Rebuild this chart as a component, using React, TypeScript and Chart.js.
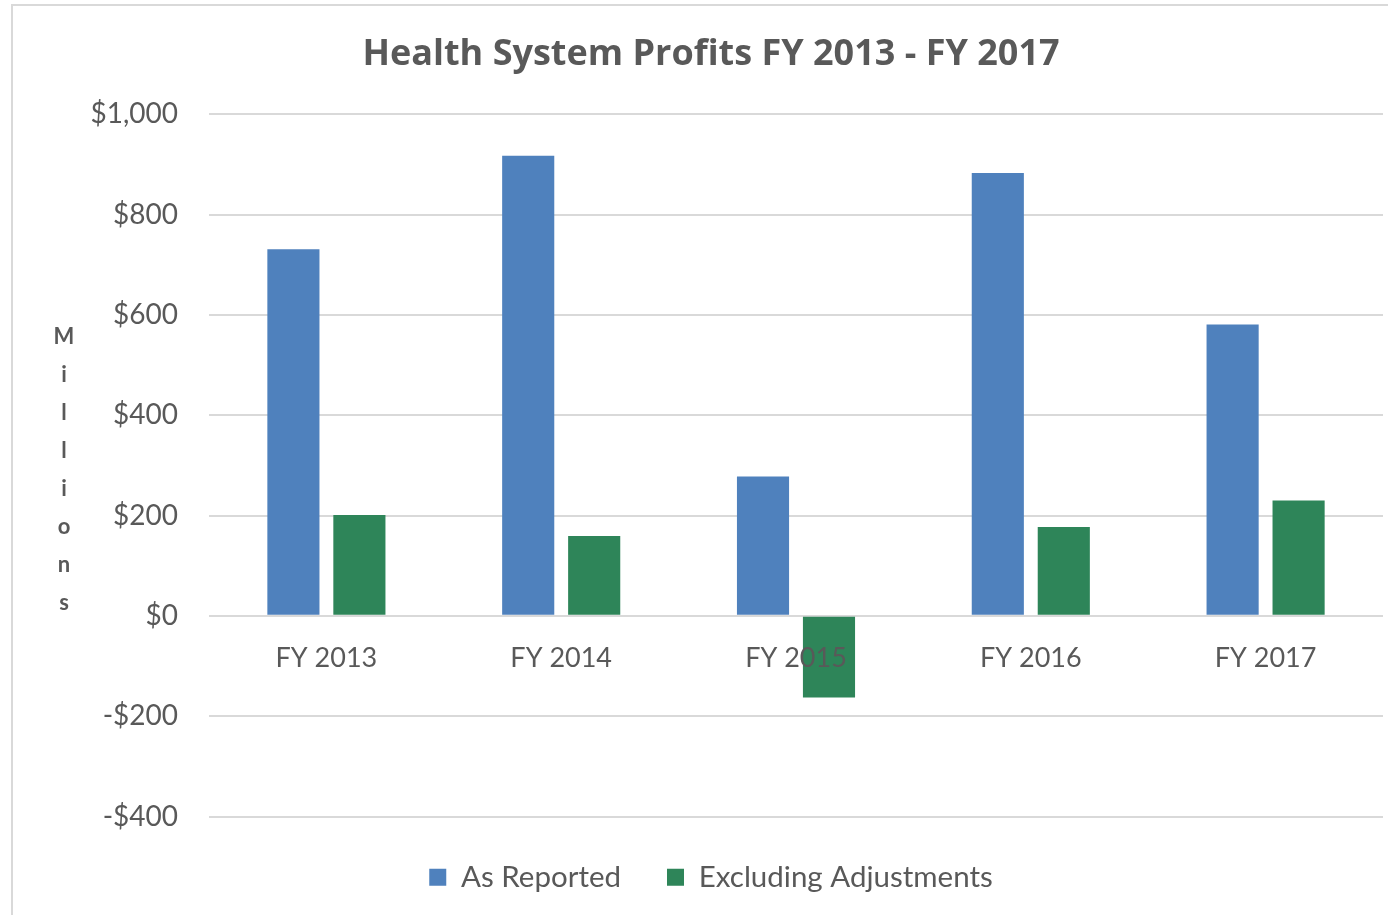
import React, { useEffect, useRef } from "react";
import { Chart, registerables } from "chart.js";

Chart.register(...registerables);

const categories = ["FY 2013", "FY 2014", "FY 2015", "FY 2016", "FY 2017"];
const asReported = [731, 917, 278, 883, 581];
const excludingAdjustments = [201, 159, -163, 177, 230];
const yTicks = [-400, -200, 0, 200, 400, 600, 800, 1000];
const axisTitleLetters = ["M", "i", "l", "l", "i", "o", "n", "s"];

const TEXT = "#595959";
const FONT = "Lato, 'Open Sans', sans-serif";

function fmt(v: number) {
  const s = "$" + Math.abs(v).toLocaleString("en-US");
  return v < 0 ? "-" + s : s;
}

const verticalTitlePlugin = {
  id: "verticalTitle",
  afterDraw(chart: any) {
    const { ctx, chartArea } = chart;
    ctx.save();
    ctx.fillStyle = TEXT;
    ctx.font = `bold 22px ${FONT}`;
    ctx.textAlign = "center";
    ctx.textBaseline = "middle";
    const step = 38;
    const cy = (chartArea.top + chartArea.bottom) / 2 + 5;
    const n = axisTitleLetters.length;
    axisTitleLetters.forEach((ch, i) => {
      ctx.fillText(ch, 64, cy + (i - (n - 1) / 2) * step);
    });
    ctx.restore();
  },
};

export default function App() {
  const ref = useRef<HTMLCanvasElement | null>(null);
  useEffect(() => {
    if (!ref.current) return;
    const chart = new Chart(ref.current, {
      type: "bar",
      data: {
        labels: categories,
        datasets: [
          {
            label: "As Reported",
            data: asReported,
            backgroundColor: "#4F81BD",
            categoryPercentage: 0.562,
            barPercentage: 0.79,
          },
          {
            label: "Excluding Adjustments",
            data: excludingAdjustments,
            backgroundColor: "#2E8559",
            categoryPercentage: 0.562,
            barPercentage: 0.79,
          },
        ],
      },
      options: {
        responsive: false,
        animation: false,
        layout: { padding: { left: 39, right: 0, top: 0, bottom: 13 } },
        plugins: {
          title: {
            display: true,
            text: "Health System Profits FY 2013 - FY 2017",
            color: TEXT,
            font: { family: "'Open Sans', Lato, sans-serif", size: 36, weight: "bold" },
            padding: { top: 33, bottom: 38 },
          },
          legend: {
            position: "bottom",
            labels: {
              color: TEXT,
              font: { family: FONT, size: 29.5 },
              boxWidth: 17,
              boxHeight: 17,
              padding: 46,
            },
          },
          tooltip: { enabled: false },
        },
        scales: {
          x: {
            position: { y: 0 } as any,
            z: 1,
            grid: { display: false, drawTicks: false },
            border: { display: false },
            ticks: {
              z: 1,
              color: TEXT,
              font: { family: FONT, size: 27 },
              padding: 26,
            } as any,
          },
          y: {
            min: -400,
            max: 1000,
            afterFit(scale: any) {
              scale.width = 170;
            },
            afterBuildTicks(scale: any) {
              scale.ticks = yTicks.map((v) => ({ value: v }));
            },
            grid: { color: "#d9d9d9", lineWidth: 2, drawTicks: false },
            border: { display: false },
            ticks: {
              color: TEXT,
              font: { family: FONT, size: 28 },
              padding: 31,
              callback: (v: any) => fmt(Number(v)),
            },
          },
        },
      },
      plugins: [verticalTitlePlugin],
    });
    return () => chart.destroy();
  }, []);

  return (
    <div
      style={{
        position: "fixed",
        left: 0,
        top: 0,
        width: 1388,
        height: 915,
        overflow: "hidden",
        background: "#fff",
      }}
    >
      <div
        style={{
          position: "absolute",
          left: 11,
          top: 4,
          width: 1420,
          height: 960,
          border: "2px solid #d9d9d9",
          boxSizing: "border-box",
        }}
      />
      <canvas
        ref={ref}
        width={1383}
        height={915}
        style={{ position: "absolute", left: 0, top: 0, width: 1383, height: 915 }}
      />
    </div>
  );
}
